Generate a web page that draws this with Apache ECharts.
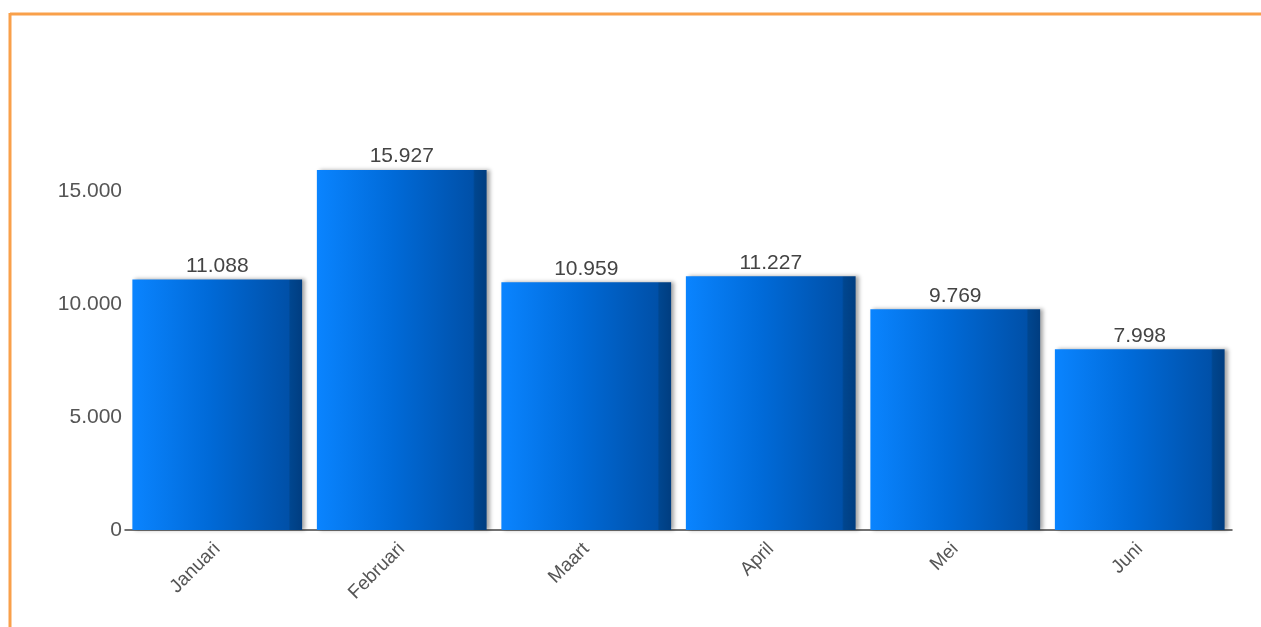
<!DOCTYPE html>
<html>
<head>
<meta charset="utf-8">
<script src="https://cdn.jsdelivr.net/npm/echarts@6/dist/echarts.min.js"></script>
<style>
html,body{margin:0;padding:0;background:#fff;}
#chart{width:1261px;height:627px;}
</style>
</head>
<body>
<div id="chart"></div>
<script>
const categories = ['Januari', 'Februari', 'Maart', 'April', 'Mei', 'Juni'];
const values = [11088, 15927, 10959, 11227, 9769, 7998];
const yTicks = [0, 5000, 10000, 15000];

function fmt(v) {
  return String(Math.round(v)).replace(/\B(?=(\d{3})+(?!\d))/g, '.');
}

const chart = echarts.init(document.getElementById('chart'));
chart.setOption({
  animation: false,
  backgroundColor: '#ffffff',
  graphic: [
    { type: 'line', shape: { x1: 10, y1: 14, x2: 1261, y2: 14 }, style: { stroke: '#f9a04a', lineWidth: 3 } },
    { type: 'line', shape: { x1: 10, y1: 13, x2: 10, y2: 627 }, style: { stroke: '#f9a04a', lineWidth: 3 } }
  ],
  grid: { left: 125, right: 29, top: 78, bottom: 97 },
  xAxis: {
    type: 'category',
    data: categories,
    axisLine: { show: true, lineStyle: { color: '#444', width: 1.5 } },
    axisTick: { show: false },
    axisLabel: {
      rotate: 45,
      color: '#555',
      fontFamily: 'Liberation Sans, Arial, sans-serif',
      fontSize: 19,
      margin: 16
    }
  },
  yAxis: {
    type: 'value',
    min: 0,
    max: 20000,
    interval: 5000,
    axisLine: { show: false },
    axisTick: { show: false },
    splitLine: { show: false },
    axisLabel: {
      color: '#555',
      fontFamily: 'Liberation Sans, Arial, sans-serif',
      fontSize: 21,
      margin: 3,
      formatter: function (v) { return yTicks.indexOf(v) >= 0 ? fmt(v) : ''; }
    }
  },
  series: [{
    type: 'bar',
    data: values,
    barCategoryGap: '8%',
    itemStyle: {
      color: new echarts.graphic.LinearGradient(0, 0, 1, 0, [
        { offset: 0, color: '#0a84ff' },
        { offset: 0.45, color: '#006ad8' },
        { offset: 0.92, color: '#0050a8' },
        { offset: 0.93, color: '#00468f' },
        { offset: 1, color: '#003d80' }
      ]),
      shadowColor: 'rgba(0,0,0,0.35)',
      shadowBlur: 4,
      shadowOffsetX: 3,
      shadowOffsetY: 0
    },
    label: {
      show: true,
      position: 'top',
      distance: 3,
      color: '#444',
      fontFamily: 'Liberation Sans, Arial, sans-serif',
      fontSize: 21,
      formatter: function (p) { return fmt(p.value); }
    }
  }]
});
</script>
</body>
</html>
